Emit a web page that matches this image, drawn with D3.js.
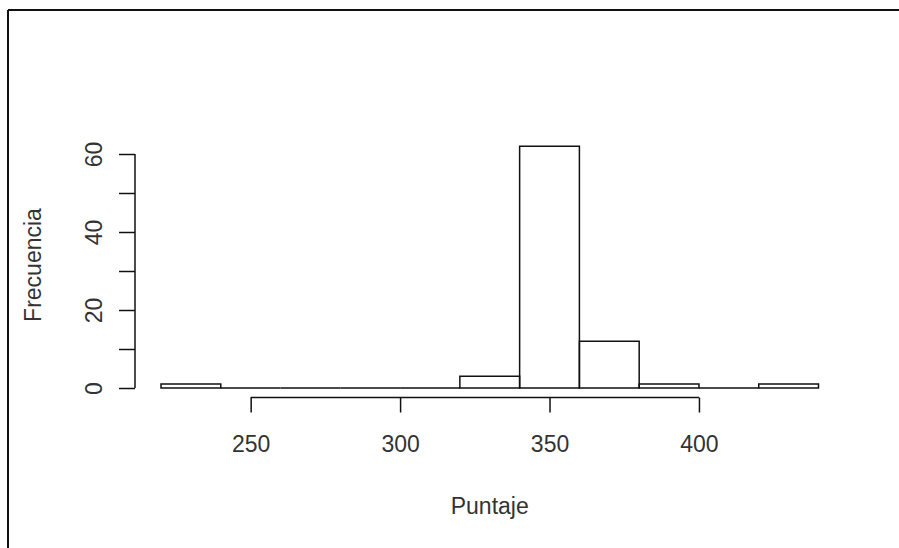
<!DOCTYPE html>
<html>
<head>
<meta charset="utf-8">
<script src="https://cdn.jsdelivr.net/npm/d3@7"></script>
<style>
  html, body { margin: 0; padding: 0; background: #fff; }
  svg { display: block; }
  text { font-family: "Liberation Sans", Arial, sans-serif; fill: #333; }
</style>
</head>
<body>
<script>
// Histogram data
const binEdges = [220, 240, 260, 280, 300, 320, 340, 360, 380, 400, 420, 440];
const counts   = [1, 0, 0, 0, 0, 3, 62, 12, 1, 0, 1];
const xTicks = [250, 300, 350, 400];
const yTicks = [0, 10, 20, 30, 40, 50, 60];
const yLabels = [0, 20, 40, 60];
const xTitle = "Puntaje";
const yTitle = "Frecuencia";

const W = 899, H = 548;
const svg = d3.select("body").append("svg").attr("width", W).attr("height", H);

// frame (top and left edges visible)
svg.append("line").attr("x1", 8).attr("y1", 10).attr("x2", W).attr("y2", 10)
  .attr("stroke", "#111").attr("stroke-width", 2);
svg.append("line").attr("x1", 8).attr("y1", 10).attr("x2", 8).attr("y2", H)
  .attr("stroke", "#111").attr("stroke-width", 2);

const x = d3.scaleLinear().domain([220, 440]).range([161, 818.5]);
const y = d3.scaleLinear().domain([0, 60]).range([388, 154]);

const bins = counts.map((c, i) => ({x0: binEdges[i], x1: binEdges[i + 1], n: c}));

// bars drawn as closed paths so that empty bins still show on the baseline
svg.append("g").selectAll("path").data(bins).join("path")
  .attr("d", d => `M${x(d.x0)},${y(0)}V${y(d.n)}H${x(d.x1)}V${y(0)}Z`)
  .attr("fill", "none")
  .attr("stroke", "#111")
  .attr("stroke-width", 1.5);

// x axis (R style)
const xAxisY = 397.5;
const gx = svg.append("g").attr("transform", `translate(0,${xAxisY})`);
const xAxis = d3.axisBottom(x).tickValues(xTicks).tickSize(15).tickPadding(0).tickFormat(d3.format("d"));
gx.call(xAxis);
gx.select(".domain").attr("d", `M${x(xTicks[0])},0H${x(xTicks[xTicks.length - 1])}`)
  .attr("stroke", "#111").attr("stroke-width", 1.5);
gx.selectAll(".tick line").attr("stroke", "#111").attr("stroke-width", 1.5);
gx.selectAll(".tick text").attr("y", 0).attr("dy", null)
  .attr("transform", "translate(0,54)")
  .style("font-size", "23px").style("font-family", "'Liberation Sans', Arial, sans-serif")
  .attr("fill", "#333");

// y axis
const yAxisX = 135;
const gy = svg.append("g").attr("transform", `translate(${yAxisX},0)`);
const yAxis = d3.axisLeft(y).tickValues(yTicks).tickSize(16)
  .tickFormat(d => yLabels.includes(d) ? d3.format("d")(d) : "");
gy.call(yAxis);
gy.select(".domain").attr("d", `M0,${y(yTicks[0])}V${y(yTicks[yTicks.length - 1])}`)
  .attr("stroke", "#111").attr("stroke-width", 1.5);
gy.selectAll(".tick line").attr("stroke", "#111").attr("stroke-width", 1.5);
gy.selectAll(".tick text")
  .attr("x", null).attr("dy", null)
  .attr("transform", "translate(-33,0) rotate(-90)")
  .attr("text-anchor", "middle")
  .style("font-size", "23px").style("font-family", "'Liberation Sans', Arial, sans-serif")
  .attr("fill", "#333");

// titles
svg.append("text").attr("x", (x(220) + x(440)) / 2).attr("y", 514)
  .attr("text-anchor", "middle").style("font-size", "23px").text(xTitle);
svg.append("text").attr("transform", `translate(41,265) rotate(-90)`)
  .attr("text-anchor", "middle").style("font-size", "23px").text(yTitle);
</script>
</body>
</html>
